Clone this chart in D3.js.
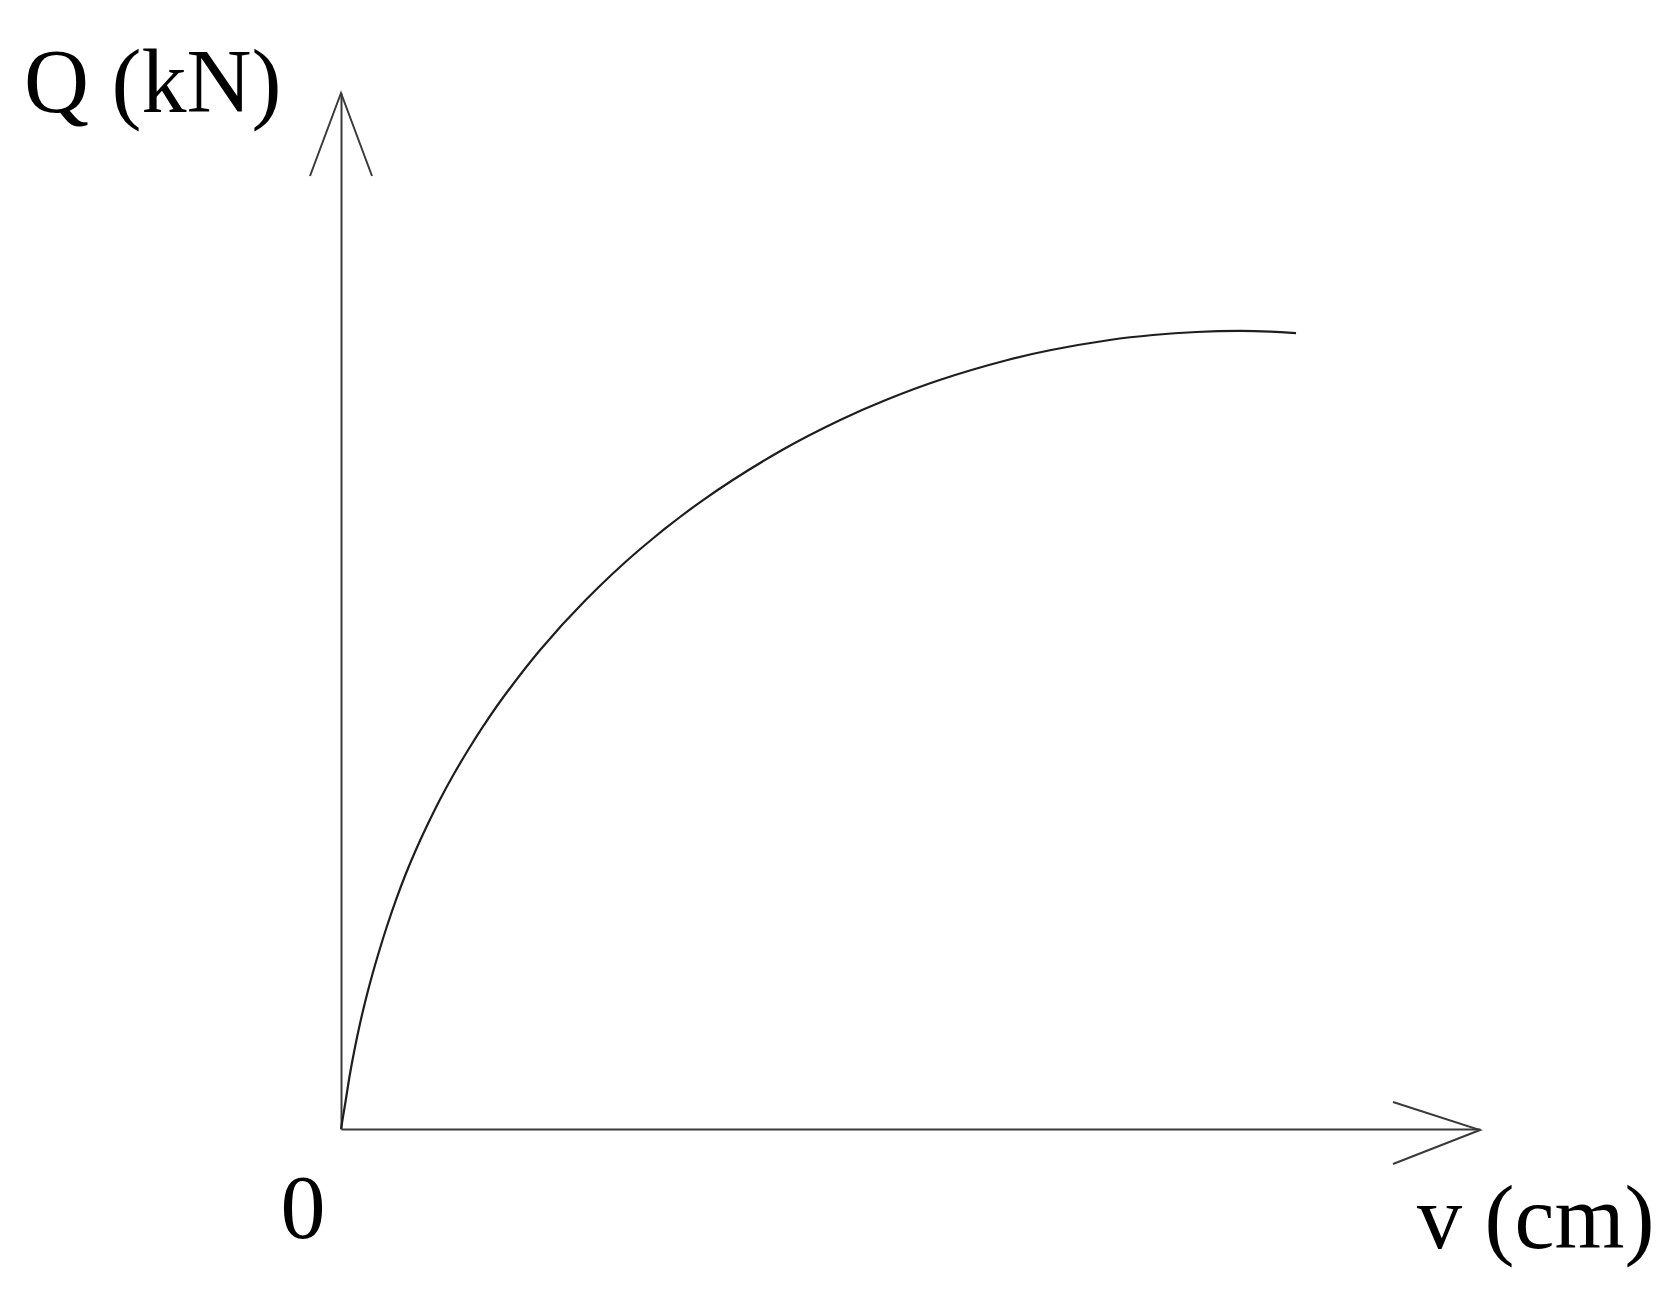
<!DOCTYPE html>
<html>
<head>
<meta charset="utf-8">
<script src="https://cdn.jsdelivr.net/npm/d3@7"></script>
<style>
  html, body { margin: 0; padding: 0; background: #fff; }
  .label { font-family: "Liberation Serif", "Times New Roman", serif; font-size: 90px; fill: #000; }
</style>
</head>
<body>
<div id="chart"></div>
<script>
      var w = 1679;
      var h = 1302;

      // curve (axis units 0..10)
      var vValues = [0, 0.042, 0.077, 0.118, 0.164, 0.216, 0.274, 0.338, 0.407, 0.482, 0.565, 0.657,
                     0.758, 0.867, 0.986, 1.116, 1.256, 1.407, 1.748, 2.148, 2.617, 3.179, 3.873,
                     4.383, 4.783, 5.256, 5.852, 6.235, 6.749, 7.129, 7.511, 7.893, 8.156, 8.385];
      var qValues = [0, 0.280, 0.521, 0.763, 1.004, 1.245, 1.487, 1.728, 1.969, 2.210, 2.452, 2.693,
                     2.934, 3.176, 3.417, 3.658, 3.900, 4.141, 4.624, 5.106, 5.589, 6.071, 6.554,
                     6.844, 7.037, 7.230, 7.423, 7.519, 7.616, 7.664, 7.693, 7.703, 7.697, 7.683];
      var axisLabels = ['Q (kN)', 'v (cm)', '0'];

      var dataset = vValues.map(function(v, i) { return {v: v, q: qValues[i]}; });

      //Create scale functions
      var xScale = d3.scaleLinear()
                 .domain([0, 10])
                 .range([341, 1480]);

      var yScale = d3.scaleLinear()
                 .domain([0, 10])
                 .range([1129, 93]);

      //Create SVG element
      var svg = d3.select("#chart")
            .append("svg")
            .attr("width", w)
            .attr("height", h);

      //Axes without ticks, just the lines
      var xAxis = d3.axisBottom(xScale).ticks(0).tickSizeOuter(0);
      var yAxis = d3.axisLeft(yScale).ticks(0).tickSizeOuter(0);

      svg.append("g")
        .attr("class", "axis")
        .attr("transform", "translate(0," + yScale(0) + ")")
        .call(xAxis);

      svg.append("g")
        .attr("class", "axis")
        .attr("transform", "translate(" + xScale(0) + ",0)")
        .call(yAxis);

      svg.selectAll(".axis path")
        .attr("stroke", "#3a3a3a")
        .attr("stroke-width", 2);

      //Arrow heads (open V)
      var xTip = [xScale(10), yScale(0)];
      var yTip = [xScale(0), yScale(10)];
      svg.append("path")
        .attr("d", "M" + (xTip[0] - 87) + "," + (xTip[1] - 27) + "L" + xTip[0] + "," + (xTip[1] + 1) +
                   "L" + (xTip[0] - 87) + "," + (xTip[1] + 35))
        .attr("fill", "none")
        .attr("stroke", "#3a3a3a")
        .attr("stroke-width", 2);

      svg.append("path")
        .attr("d", "M" + (yTip[0] - 31) + "," + (yTip[1] + 83) + "L" + yTip[0] + "," + yTip[1] +
                   "L" + (yTip[0] + 31) + "," + (yTip[1] + 83))
        .attr("fill", "none")
        .attr("stroke", "#3a3a3a")
        .attr("stroke-width", 2);

      //Curve
      var line = d3.line()
        .x(function(d) { return xScale(d.v); })
        .y(function(d) { return yScale(d.q); })
        .curve(d3.curveCatmullRom.alpha(0.5));

      svg.append("path")
        .datum(dataset)
        .attr("d", line)
        .attr("fill", "none")
        .attr("stroke", "#1e1e1e")
        .attr("stroke-width", 2.2);

      //Labels
      svg.append('text')
        .attr('x', 24)
        .attr('y', 112)
        .attr('class', 'label')
        .text(axisLabels[0]);

      svg.append('text')
        .attr('x', 1417)
        .attr('y', 1248)
        .attr('class', 'label')
        .text(axisLabels[1]);

      svg.append('text')
        .attr('x', 303)
        .attr('y', 1238)
        .attr('text-anchor', 'middle')
        .attr('class', 'label')
        .text(axisLabels[2]);
</script>
</body>
</html>
